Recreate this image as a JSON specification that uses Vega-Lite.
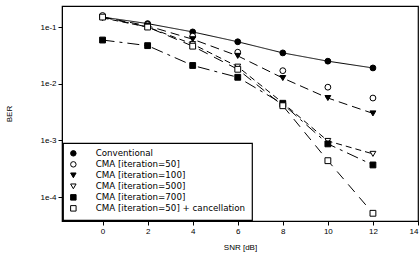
{
  "$schema": "https://vega.github.io/schema/vega-lite/v6.json",
  "width": 356,
  "height": 215,
  "autosize": {"type": "none"},
  "padding": {"left": 62, "top": 6, "right": 1, "bottom": 35},
  "background": "white",
  "config": {
    "view": {"stroke": "black", "strokeWidth": 1.2},
    "font": "Liberation Sans",
    "axis": {"grid": false, "domainColor": "black", "tickColor": "black", "labelColor": "black", "titleColor": "black", "labelFontSize": 8, "titleFontSize": 8, "titleFontWeight": "normal", "tickSize": 4},
    "legend": {"labelFont": "DejaVu Sans", "labelFontSize": 8.7, "labelColor": "black", "orient": "bottom-left", "offset": 1, "fillColor": "white", "strokeColor": "black", "strokeWidth": 1.2, "padding": 6, "rowPadding": 0, "symbolSize": 30, "symbolStrokeColor": "black", "symbolStrokeWidth": 1, "labelOffset": 18, "labelLimit": 300}
  },
  "data": {
    "values": [
      {"series": "Conventional", "snr": 0, "ber": 0.15},
      {"series": "Conventional", "snr": 2, "ber": 0.115},
      {"series": "Conventional", "snr": 4, "ber": 0.082},
      {"series": "Conventional", "snr": 6, "ber": 0.055},
      {"series": "Conventional", "snr": 8, "ber": 0.035},
      {"series": "Conventional", "snr": 10, "ber": 0.025},
      {"series": "Conventional", "snr": 12, "ber": 0.019},
      {"series": "CMA [iteration=50]", "snr": 0, "ber": 0.16},
      {"series": "CMA [iteration=50]", "snr": 2, "ber": 0.11},
      {"series": "CMA [iteration=50]", "snr": 4, "ber": 0.069},
      {"series": "CMA [iteration=50]", "snr": 6, "ber": 0.036},
      {"series": "CMA [iteration=50]", "snr": 8, "ber": 0.017},
      {"series": "CMA [iteration=50]", "snr": 10, "ber": 0.0087},
      {"series": "CMA [iteration=50]", "snr": 12, "ber": 0.0056},
      {"series": "CMA [iteration=100]", "snr": 0, "ber": 0.15},
      {"series": "CMA [iteration=100]", "snr": 2, "ber": 0.105},
      {"series": "CMA [iteration=100]", "snr": 4, "ber": 0.061},
      {"series": "CMA [iteration=100]", "snr": 6, "ber": 0.031},
      {"series": "CMA [iteration=100]", "snr": 8, "ber": 0.0126},
      {"series": "CMA [iteration=100]", "snr": 10, "ber": 0.0056},
      {"series": "CMA [iteration=100]", "snr": 12, "ber": 0.003},
      {"series": "CMA [iteration=500]", "snr": 0, "ber": 0.145},
      {"series": "CMA [iteration=500]", "snr": 2, "ber": 0.1},
      {"series": "CMA [iteration=500]", "snr": 4, "ber": 0.05},
      {"series": "CMA [iteration=500]", "snr": 6, "ber": 0.02},
      {"series": "CMA [iteration=500]", "snr": 8, "ber": 0.0046},
      {"series": "CMA [iteration=500]", "snr": 10, "ber": 0.00098},
      {"series": "CMA [iteration=500]", "snr": 12, "ber": 0.00058},
      {"series": "CMA [iteration=700]", "snr": 0, "ber": 0.059},
      {"series": "CMA [iteration=700]", "snr": 2, "ber": 0.047},
      {"series": "CMA [iteration=700]", "snr": 4, "ber": 0.021},
      {"series": "CMA [iteration=700]", "snr": 6, "ber": 0.013},
      {"series": "CMA [iteration=700]", "snr": 8, "ber": 0.0044},
      {"series": "CMA [iteration=700]", "snr": 10, "ber": 0.00087},
      {"series": "CMA [iteration=700]", "snr": 12, "ber": 0.00037},
      {"series": "CMA [iteration=50] + cancellation", "snr": 0, "ber": 0.15},
      {"series": "CMA [iteration=50] + cancellation", "snr": 2, "ber": 0.1},
      {"series": "CMA [iteration=50] + cancellation", "snr": 4, "ber": 0.046},
      {"series": "CMA [iteration=50] + cancellation", "snr": 6, "ber": 0.018},
      {"series": "CMA [iteration=50] + cancellation", "snr": 8, "ber": 0.0041},
      {"series": "CMA [iteration=50] + cancellation", "snr": 10, "ber": 0.00044},
      {"series": "CMA [iteration=50] + cancellation", "snr": 12, "ber": 0.000052}
    ]
  },
  "encoding": {
    "x": {"field": "snr", "type": "quantitative", "scale": {"domain": [-1.8, 14], "nice": false, "zero": false},
          "axis": {"values": [0, 2, 4, 6, 8, 10, 12, 14], "title": "SNR [dB]", "titlePadding": 8}},
    "y": {"field": "ber", "type": "quantitative", "scale": {"type": "log", "domain": [0.000038, 0.235], "nice": false},
          "axis": {"values": [0.1, 0.01, 0.001, 0.0001], "labelExpr": "'1e' + round(log(datum.value)/LN10)", "title": "BER", "titlePadding": 26}}
  },
  "layer": [
    {
      "transform": [{"filter": "datum.series != 'CMA [iteration=50]'"}],
      "mark": {"type": "line", "color": "black", "strokeWidth": 1},
      "encoding": {
        "detail": {"field": "series"},
        "strokeDash": {"field": "series", "type": "nominal", "legend": null,
          "scale": {"range": [[9, 5], [6, 4], [10, 7], [12, 5, 3, 5], [1, 0]]}}
      }
    },
    {
      "mark": {"type": "point", "filled": true, "strokeWidth": 1, "size": 34, "opacity": 1},
      "encoding": {
        "shape": {"field": "series", "type": "nominal", "title": null,
          "scale": {"domain": ["Conventional", "CMA [iteration=50]", "CMA [iteration=100]", "CMA [iteration=500]", "CMA [iteration=700]", "CMA [iteration=50] + cancellation"], "range": ["circle", "circle", "triangle-down", "triangle-down", "square", "square"]}},
        "fill": {"field": "series", "type": "nominal", "title": null,
          "scale": {"domain": ["Conventional", "CMA [iteration=50]", "CMA [iteration=100]", "CMA [iteration=500]", "CMA [iteration=700]", "CMA [iteration=50] + cancellation"], "range": ["black", "white", "black", "white", "black", "white"]}},
        "stroke": {"field": "series", "type": "nominal", "title": null,
          "scale": {"domain": ["Conventional", "CMA [iteration=50]", "CMA [iteration=100]", "CMA [iteration=500]", "CMA [iteration=700]", "CMA [iteration=50] + cancellation"], "range": ["black", "black", "black", "black", "black", "black"]}}
      }
    }
  ]
}
